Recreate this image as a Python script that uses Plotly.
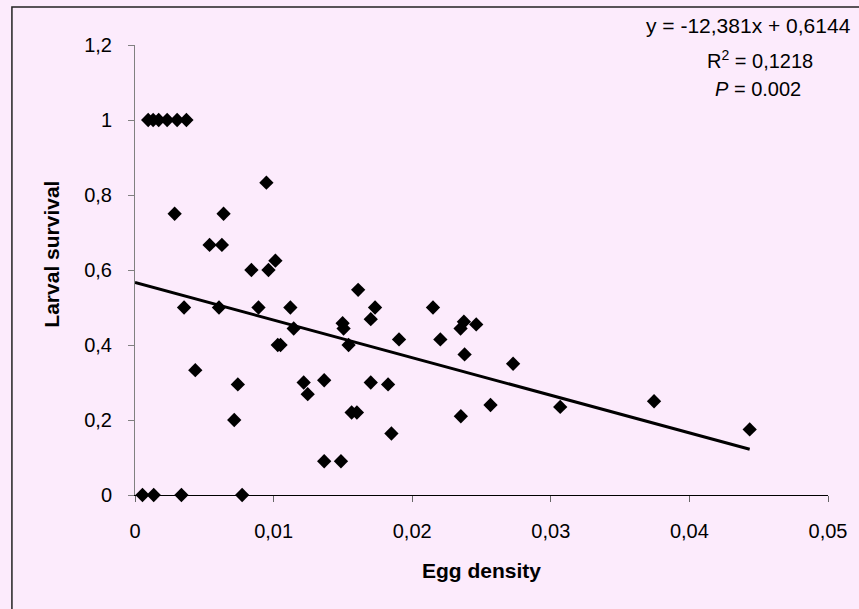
import plotly.graph_objects as go

# Egg density (x) and larval survival (y)
egg_density = [
    0.00095, 0.00131, 0.00171, 0.00232, 0.00304, 0.00371,
    0.00286, 0.00639, 0.00538, 0.00627, 0.00948, 0.00840, 0.00963, 0.01013,
    0.00354, 0.00606, 0.00891, 0.01121, 0.01145, 0.01030, 0.01050,
    0.00435, 0.00742, 0.00716,
    0.00054, 0.00135, 0.00335, 0.00773,
    0.01610, 0.01732, 0.01701, 0.01498, 0.01505, 0.01541, 0.01905,
    0.02150, 0.02203, 0.02373, 0.02349, 0.02462, 0.02378, 0.02728,
    0.01217, 0.01246, 0.01365, 0.01701, 0.01826, 0.01563, 0.01601,
    0.01850, 0.01365, 0.01486, 0.02351, 0.02565,
    0.03068, 0.03745, 0.04435,
]
larval_survival = [
    1.0, 1.0, 1.0, 1.0, 1.0, 1.0,
    0.75, 0.75, 0.667, 0.667, 0.833, 0.60, 0.60, 0.625,
    0.50, 0.50, 0.50, 0.50, 0.444, 0.40, 0.40,
    0.333, 0.295, 0.20,
    0.0, 0.0, 0.0, 0.0,
    0.547, 0.50, 0.469, 0.458, 0.444, 0.40, 0.415,
    0.50, 0.415, 0.462, 0.444, 0.455, 0.375, 0.35,
    0.30, 0.269, 0.306, 0.30, 0.295, 0.22, 0.22,
    0.164, 0.09, 0.09, 0.21, 0.24,
    0.235, 0.25, 0.175,
]

# Trend line as drawn
trend_x = [0.0, 0.04435]
trend_y = [0.567, 0.122]

x_ticks = [0, 0.01, 0.02, 0.03, 0.04, 0.05]
y_ticks = [0, 0.2, 0.4, 0.6, 0.8, 1.0, 1.2]

eq_lines = ["y = -12,381x + 0,6144", "R<sup>2</sup> = 0,1218", "<i>P</i> = 0.002"]

BG = "#FCEBFC"
FONT = "Liberation Sans, Arial, sans-serif"

fig = go.Figure()
fig.add_trace(go.Scatter(
    x=trend_x, y=trend_y, mode="lines",
    line=dict(color="black", width=3),
    hoverinfo="skip", showlegend=False,
))
fig.add_trace(go.Scatter(
    x=egg_density, y=larval_survival, mode="markers",
    marker=dict(symbol="diamond", size=11, color="black"),
    cliponaxis=False, showlegend=False,
))

fig.update_layout(
    width=859, height=609,
    margin=dict(l=135, r=31, t=45, b=114),
    paper_bgcolor=BG, plot_bgcolor=BG,
    separators=",.",
    font=dict(family=FONT, size=20, color="black"),
    showlegend=False,
)
fig.update_xaxes(
    range=[0, 0.05], tickvals=x_ticks,
    showgrid=False, zeroline=False,
    showline=True, linecolor="black", linewidth=1,
    ticks="outside", ticklen=6, tickcolor="#666666",
    ticklabelstandoff=12,
    tickfont=dict(size=20, family=FONT),
)
fig.update_yaxes(
    range=[0, 1.2], tickvals=y_ticks,
    showgrid=False, zeroline=False,
    showline=True, linecolor="#808080", linewidth=1,
    ticks="outside", ticklen=6, tickcolor="#808080",
    ticklabelstandoff=12,
    tickfont=dict(size=20, family=FONT),
)

# axis titles
fig.add_annotation(text="<b>Egg density</b>", xref="paper", yref="paper",
                   x=0.5, y=-0.167, showarrow=False,
                   xanchor="center", yanchor="middle", font=dict(size=21, family=FONT))
fig.add_annotation(text="<b>Larval survival</b>", xref="paper", yref="paper",
                   x=-0.12, y=0.536, showarrow=False, textangle=-90,
                   xanchor="center", yanchor="middle", font=dict(size=21, family=FONT))

# regression label
for txt, xp, yp, fs in zip(eq_lines, [0.886, 0.902, 0.8995], [1.0444, 0.9667, 0.902], [21, 20, 20]):
    fig.add_annotation(text=txt, xref="paper", yref="paper", x=xp, y=yp,
                       showarrow=False, xanchor="center", yanchor="middle",
                       font=dict(size=fs, family=FONT))

# chart frame (top and left edges visible)
fig.add_shape(type="rect", xref="paper", yref="paper",
              x0=-0.1776, y0=-0.5, x1=1.2, y1=1.0844,
              line=dict(color="#222222", width=1.5), layer="below")

fig.write_html("out.html",
               config={"displayModeBar": False},
               post_script="document.body.style.margin='0';document.body.style.background='%s';" % BG)
